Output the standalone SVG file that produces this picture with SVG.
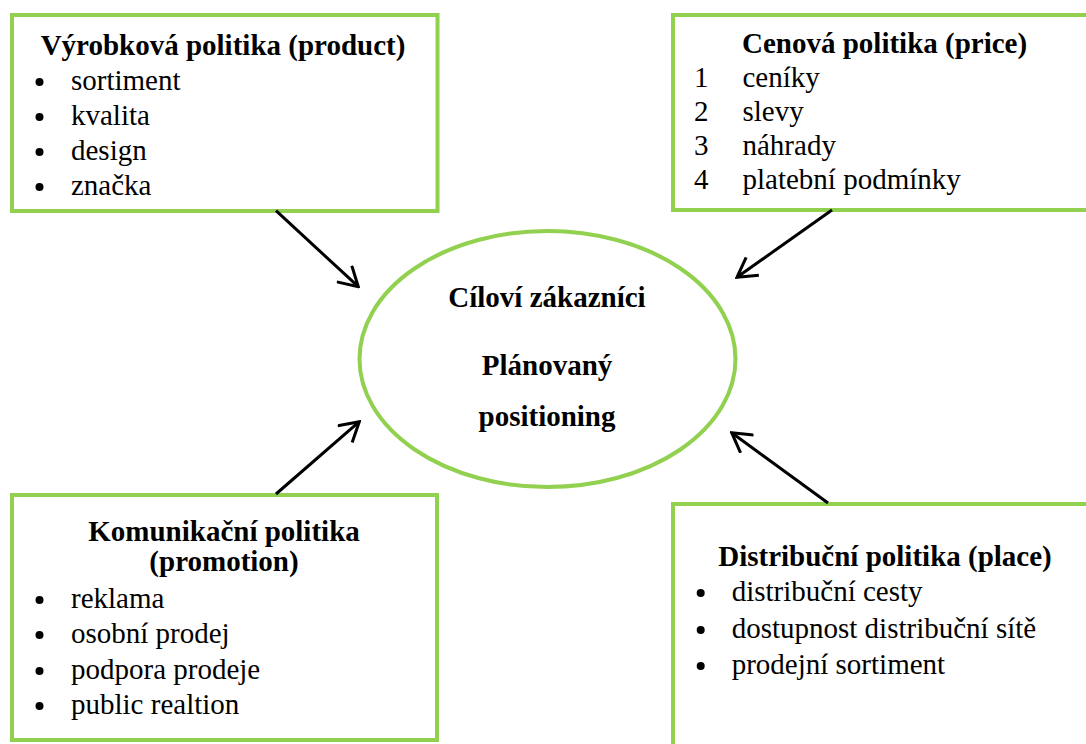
<svg xmlns="http://www.w3.org/2000/svg" width="1086" height="744" viewBox="0 0 1086 744">
<style>
.box{fill:#fff;stroke:#92D050;stroke-width:4}
.t{font-size:29px;fill:#000}
.b{font-weight:bold}
.m{text-anchor:middle}
.dot{fill:#000}
.arr{stroke:#000;stroke-width:3;fill:none;marker-end:url(#ah)}
</style>
<defs>
<marker id="ah" markerUnits="userSpaceOnUse" viewBox="0 0 24 24" markerWidth="24" markerHeight="24" refX="22" refY="12" orient="auto">
<path d="M3,1 L22,12 L3,23" fill="none" stroke="#000" stroke-width="3"/>
</marker>
</defs>
<rect width="1086" height="744" fill="#fff"/>
<g id="product">
<rect class="box" x="12" y="15" width="425.5" height="196"/>
<text class="t b m" style="font-family:'Liberation Serif',serif" x="223" y="55">Výrobková politika (product)</text>
<circle class="dot" cx="39.5" cy="82" r="4"/><text class="t" style="font-family:'Liberation Serif',serif" x="71" y="90">sortiment</text>
<circle class="dot" cx="39.5" cy="117" r="4"/><text class="t" style="font-family:'Liberation Serif',serif" x="71" y="125">kvalita</text>
<circle class="dot" cx="39.5" cy="152" r="4"/><text class="t" style="font-family:'Liberation Serif',serif" x="71" y="160">design</text>
<circle class="dot" cx="39.5" cy="187" r="4"/><text class="t" style="font-family:'Liberation Serif',serif" x="71" y="195">značka</text>
</g>
<g id="price">
<rect class="box" x="673" y="15" width="420" height="195"/>
<text class="t b" style="font-family:'Liberation Serif',serif" x="742" y="53">Cenová politika (price)</text>
<text class="t" style="font-family:'Liberation Serif',serif" x="694" y="87">1</text><text class="t" style="font-family:'Liberation Serif',serif" x="742.5" y="87">ceníky</text>
<text class="t" style="font-family:'Liberation Serif',serif" x="694" y="121">2</text><text class="t" style="font-family:'Liberation Serif',serif" x="742.5" y="121">slevy</text>
<text class="t" style="font-family:'Liberation Serif',serif" x="694" y="155">3</text><text class="t" style="font-family:'Liberation Serif',serif" x="742.5" y="155">náhrady</text>
<text class="t" style="font-family:'Liberation Serif',serif" x="694" y="189">4</text><text class="t" style="font-family:'Liberation Serif',serif" x="742.5" y="189">platební podmínky</text>
</g>
<g id="promotion">
<rect class="box" x="12" y="495" width="425" height="245"/>
<text class="t b m" style="font-family:'Liberation Serif',serif" x="224" y="541">Komunikační politika</text>
<text class="t b m" style="font-family:'Liberation Serif',serif" x="224" y="571">(promotion)</text>
<circle class="dot" cx="39.5" cy="600" r="4"/><text class="t" style="font-family:'Liberation Serif',serif" x="71" y="608">reklama</text>
<circle class="dot" cx="39.5" cy="635" r="4"/><text class="t" style="font-family:'Liberation Serif',serif" x="71" y="643">osobní prodej</text>
<circle class="dot" cx="39.5" cy="671" r="4"/><text class="t" style="font-family:'Liberation Serif',serif" x="71" y="679">podpora prodeje</text>
<circle class="dot" cx="39.5" cy="706" r="4"/><text class="t" style="font-family:'Liberation Serif',serif" x="71" y="714">public realtion</text>
</g>
<g id="place">
<rect class="box" x="673" y="504" width="420" height="250"/>
<text class="t b m" style="font-family:'Liberation Serif',serif" x="885" y="566">Distribuční politika (place)</text>
<circle class="dot" cx="700.7" cy="593" r="4"/><text class="t" style="font-family:'Liberation Serif',serif" x="731.7" y="601">distribuční cesty</text>
<circle class="dot" cx="700.7" cy="630" r="4"/><text class="t" style="font-family:'Liberation Serif',serif" x="731.7" y="638">dostupnost distribuční sítě</text>
<circle class="dot" cx="700.7" cy="666" r="4"/><text class="t" style="font-family:'Liberation Serif',serif" x="731.7" y="674">prodejní sortiment</text>
</g>
<g id="target">
<ellipse cx="547.5" cy="359" rx="188" ry="128" fill="#fff" stroke="#92D050" stroke-width="4"/>
<text class="t b m" style="font-family:'Liberation Serif',serif" x="547" y="307">Cíloví zákazníci</text>
<text class="t b m" style="font-family:'Liberation Serif',serif" x="547" y="375">Plánovaný</text>
<text class="t b m" style="font-family:'Liberation Serif',serif" x="547" y="426">positioning</text>
</g>
<g id="connectors">
<line class="arr" x1="276" y1="210.7" x2="358.3" y2="286.7"/>
<line class="arr" x1="832" y1="210" x2="737" y2="277.3"/>
<line class="arr" x1="276" y1="494" x2="359.3" y2="421.7"/>
<line class="arr" x1="828" y1="503" x2="731.7" y2="432.7"/>
</g>
</svg>
